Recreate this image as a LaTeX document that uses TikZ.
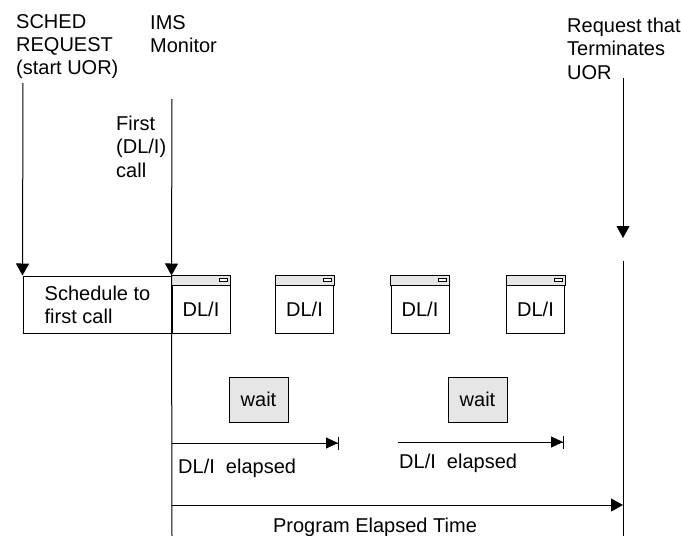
\documentclass[tikz,border=0pt]{standalone}
\usepackage{fontspec}
\setmainfont{Liberation Sans}
\usetikzlibrary{arrows.meta}
\definecolor{boxgray}{HTML}{E6E6E6}
\begin{document}
\begin{tikzpicture}[x=1pt,y=-1pt,
  txt/.style={font=\fontsize{20}{23.2}\selectfont, inner sep=0pt, align=left},
  ln/.style={line width=1pt, draw=black},
  arr/.style={ln, -{Triangle[length=12pt,width=13pt]}},
  barr/.style={ln, -{Triangle[length=12pt,width=11pt]Bar[width=13pt,line width=1pt]}},
  dlbox/.style={ln, fill=white, minimum width=58pt, minimum height=57pt, inner sep=0pt},
  waitbox/.style={ln, fill=boxgray, minimum width=59pt, minimum height=45pt, inner sep=0pt, font=\fontsize{20}{23.2}\selectfont},
  schedbox/.style={ln, minimum width=149pt, minimum height=57pt, inner sep=0pt, align=left, font=\fontsize{20}{23.2}\selectfont}
]
\useasboundingbox (0,0) rectangle (681,536);

% headings
\node[txt, anchor=north west] (schedtxt) at (16,14) {SCHED\\REQUEST\\(start UOR)};
\node[txt, anchor=north west] (imstxt) at (150,15) {IMS\\Monitor};
\node[txt, anchor=north west] (firsttxt) at (116,116) {First\\(DL/I)\\call};
\node[txt, anchor=north west] (reqtxt) at (567,18) {Request that\\Terminates\\UOR};

% boxes
\node[schedbox] (sched) at (97.5,304.5) {Schedule to\\first call};

\foreach \n/\cx in {d1/201, d2/304.5, d3/420, d4/535.5}{
  \node[dlbox] (\n) at (\cx,304.5) {};
  \draw[ln, fill=boxgray] (\n.north west) rectangle ([yshift=-10pt]\n.north east);
  \draw[line width=0.8pt, fill=white] ([xshift=-11pt,yshift=-2.5pt]\n.north east) rectangle ([xshift=-3pt,yshift=-5.5pt]\n.north east);
  \node[txt] (\n t) at ([yshift=-5pt]\n.center) {DL/I};
}

\node[waitbox] (w1) at (258.5,399.5) {wait};
\node[waitbox] (w2) at (477.5,399.5) {wait};

% vertical lines
\coordinate (s0) at (23,83);
\coordinate (m0) at (172,99);
\coordinate (mb) at (172,536);
\coordinate (r0) at (623,78);
\coordinate (r1) at (623,238);
\coordinate (r2) at (623,261);
\coordinate (rb) at (623,536);

\draw[arr] (s0) -- (sched.north west);
\draw[arr] (m0) -- (d1.north west);
\draw[ln] (d1.north west) -- (mb);
\draw[arr] (r0) -- (r1);
\draw[ln] (r2) -- (rb);

% elapsed arrows
\coordinate (e1a) at (172,443);
\coordinate (e1b) at (339,443);
\coordinate (e2a) at (398,442);
\coordinate (e2b) at (564,442);
\draw[barr] (e1a) -- (e1b);
\draw[barr] (e2a) -- (e2b);
\node[txt, anchor=base west] (el1) at (178,473) {DL/I\ \ elapsed};
\node[txt, anchor=base west] (el2) at (399,468) {DL/I\ \ elapsed};

% program elapsed
\coordinate (pa) at (172,505);
\coordinate (pb) at (623,505);
\draw[arr] (pa) -- (pb);
\node[txt, anchor=base] (prog) at (375,532) {Program Elapsed Time};
\end{tikzpicture}
\end{document}
